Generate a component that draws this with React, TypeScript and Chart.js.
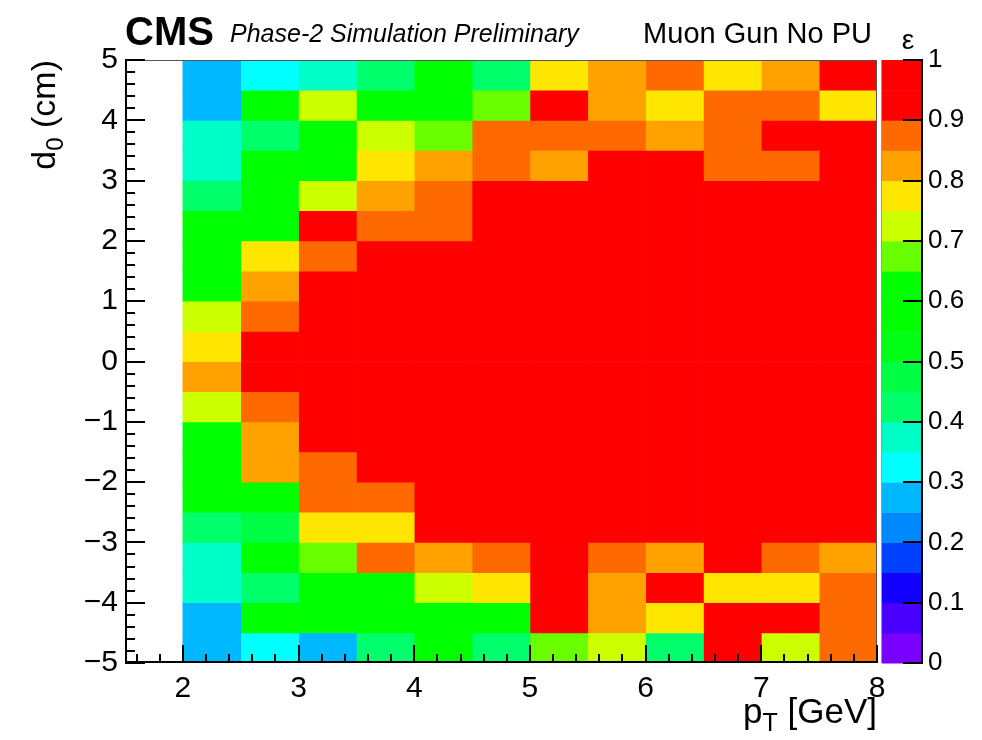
import React, { useEffect, useRef } from "react";
import { Chart, registerables } from "chart.js";

Chart.register(...registerables);

const FONT_FAMILY = '"Liberation Sans", Arial, Helvetica, sans-serif';

// Binning: pT in 0.5 GeV bins from 2 to 8, d0 in 0.5 cm bins from -5 to 5
const ptBinLow = [2.0, 2.5, 3.0, 3.5, 4.0, 4.5, 5.0, 5.5, 6.0, 6.5, 7.0, 7.5];
const d0BinLow = [
  -5.0, -4.5, -4.0, -3.5, -3.0, -2.5, -2.0, -1.5, -1.0, -0.5,
  0.0, 0.5, 1.0, 1.5, 2.0, 2.5, 3.0, 3.5, 4.0, 4.5,
];
const ptBinWidth = 0.5;
const d0BinWidth = 0.5;

// Efficiency in each pT bin, listed along d0 from -5 cm up to +5 cm
const effPt2p0 = [0.27, 0.28, 0.37, 0.38, 0.42, 0.57, 0.58, 0.56, 0.72, 0.83, 0.78, 0.73, 0.57, 0.58, 0.56, 0.43, 0.38, 0.37, 0.28, 0.27];
const effPt2p5 = [0.32, 0.57, 0.42, 0.58, 0.47, 0.56, 0.82, 0.83, 0.87, 0.96, 0.97, 0.88, 0.82, 0.78, 0.57, 0.58, 0.56, 0.43, 0.57, 0.33];
const effPt3p0 = [0.28, 0.57, 0.58, 0.67, 0.77, 0.87, 0.88, 0.96, 0.98, 0.99, 0.99, 0.98, 0.96, 0.87, 0.93, 0.72, 0.57, 0.58, 0.72, 0.37];
const effPt3p5 = [0.42, 0.57, 0.56, 0.87, 0.78, 0.88, 0.95, 0.97, 0.98, 0.99, 0.99, 0.98, 0.97, 0.96, 0.88, 0.82, 0.77, 0.72, 0.57, 0.43];
const effPt4p0 = [0.57, 0.58, 0.72, 0.82, 0.93, 0.95, 0.97, 0.98, 0.99, 0.99, 1.0, 0.99, 0.98, 0.96, 0.87, 0.88, 0.82, 0.67, 0.57, 0.58];
const effPt4p5 = [0.42, 0.57, 0.77, 0.87, 0.93, 0.96, 0.98, 0.98, 0.99, 1.0, 1.0, 0.99, 0.99, 0.98, 0.96, 0.94, 0.87, 0.88, 0.67, 0.42];
const effPt5p0 = [0.67, 0.95, 0.93, 0.94, 0.96, 0.97, 0.98, 0.99, 0.99, 1.0, 1.0, 0.99, 0.99, 0.98, 0.97, 0.95, 0.82, 0.87, 0.93, 0.77];
const effPt5p5 = [0.72, 0.82, 0.83, 0.87, 0.95, 0.97, 0.98, 0.99, 0.99, 1.0, 1.0, 0.99, 0.99, 0.98, 0.97, 0.96, 0.94, 0.87, 0.82, 0.83];
const effPt6p0 = [0.42, 0.77, 0.94, 0.82, 0.95, 0.97, 0.98, 0.99, 0.99, 1.0, 1.0, 0.99, 0.99, 0.98, 0.97, 0.96, 0.94, 0.82, 0.77, 0.87];
const effPt6p5 = [0.93, 0.95, 0.77, 0.92, 0.95, 0.97, 0.98, 0.99, 0.99, 1.0, 1.0, 0.99, 0.99, 0.98, 0.97, 0.95, 0.87, 0.87, 0.88, 0.77];
const effPt7p0 = [0.72, 0.94, 0.78, 0.87, 0.95, 0.97, 0.98, 0.99, 0.99, 1.0, 1.0, 0.99, 0.99, 0.98, 0.97, 0.96, 0.87, 0.93, 0.87, 0.82];
const effPt7p5 = [0.87, 0.88, 0.87, 0.82, 0.95, 0.97, 0.98, 0.99, 0.99, 1.0, 1.0, 0.99, 0.99, 0.98, 0.97, 0.96, 0.95, 0.93, 0.77, 0.94];

const efficiencyByPt = [
  effPt2p0, effPt2p5, effPt3p0, effPt3p5, effPt4p0, effPt4p5,
  effPt5p0, effPt5p5, effPt6p0, effPt6p5, effPt7p0, effPt7p5,
];

// Axis ranges and labelled ticks
const xRange = [1.5, 8];
const yRange = [-5, 5];
const zRange = [0, 1];
const xTickValues = [2, 3, 4, 5, 6, 7, 8];
const yTickValues = [-5, -4, -3, -2, -1, 0, 1, 2, 3, 4, 5];
const zTickValues = [0, 0.1, 0.2, 0.3, 0.4, 0.5, 0.6, 0.7, 0.8, 0.9, 1];

// Rainbow palette with 20 equal contours between zRange[0] and zRange[1]
const paletteColors = [
  "#7a00ff", "#4800ff", "#1400ff", "#0040ff", "#0088ff",
  "#00b8ff", "#00ffff", "#00ffc8", "#00ff6a", "#00ff44",
  "#00ff14", "#00ff00", "#00ff00", "#6aff00", "#ccff00",
  "#ffe600", "#ffa200", "#ff6a00", "#ff0000", "#ff0000",
];

function colorFor(v: number | undefined): string {
  if (v === undefined || v === null || Number.isNaN(v)) return "rgba(0,0,0,0)";
  const n = paletteColors.length;
  const f = (v - zRange[0]) / (zRange[1] - zRange[0]);
  const idx = Math.min(n - 1, Math.max(0, Math.floor(f * n + 1e-9)));
  return paletteColors[idx];
}

const unicodeMinus = (v: number) => (v < 0 ? "\u2212" + String(Math.abs(v)) : String(v));

function measureSubscripted(ctx: CanvasRenderingContext2D, base: string, sub: string, rest: string, size: number, subSize: number) {
  ctx.font = `${size}px ${FONT_FAMILY}`;
  const wb = ctx.measureText(base).width;
  const wr = ctx.measureText(rest).width;
  ctx.font = `${subSize}px ${FONT_FAMILY}`;
  const ws = ctx.measureText(sub).width;
  return { wb, ws, wr, total: wb + ws + wr };
}

// Draws base, a lowered subscript, then the rest, starting at (x, y) on the baseline
function drawSubscripted(ctx: CanvasRenderingContext2D, base: string, sub: string, rest: string, size: number, subSize: number, drop: number, x: number, y: number) {
  const m = measureSubscripted(ctx, base, sub, rest, size, subSize);
  ctx.textAlign = "left";
  ctx.textBaseline = "alphabetic";
  ctx.font = `${size}px ${FONT_FAMILY}`;
  ctx.fillText(base, x, y);
  ctx.font = `${subSize}px ${FONT_FAMILY}`;
  ctx.fillText(sub, x + m.wb, y + drop);
  ctx.font = `${size}px ${FONT_FAMILY}`;
  ctx.fillText(rest, x + m.wb + m.ws, y);
  return m.total;
}

const rootStylePlugin = {
  id: "rootStyle",
  beforeDraw(chart: any) {
    const { ctx, width, height } = chart;
    ctx.save();
    ctx.fillStyle = "#ffffff";
    ctx.fillRect(0, 0, width, height);
    ctx.restore();
  },
  afterDatasetsDraw(chart: any) {
    const { ctx, chartArea } = chart;
    const xs = chart.scales.x;
    const ys = chart.scales.y;
    const zs = chart.scales.z;
    const { left, right, top, bottom } = chartArea;

    ctx.save();
    ctx.lineCap = "butt";

    // frame: thin top/right, heavier axis lines
    ctx.strokeStyle = "#555";
    ctx.lineWidth = 1;
    ctx.beginPath();
    ctx.moveTo(left, top + 0.5);
    ctx.lineTo(right, top + 0.5);
    ctx.moveTo(right - 0.5, top);
    ctx.lineTo(right - 0.5, bottom);
    ctx.stroke();

    ctx.strokeStyle = "#000";
    ctx.lineWidth = 2;
    ctx.beginPath();
    ctx.moveTo(left, bottom - 1);
    ctx.lineTo(right, bottom - 1);
    ctx.moveTo(left + 1, top);
    ctx.lineTo(left + 1, bottom);
    ctx.stroke();

    // x ticks: major at integers, minor every 0.2
    ctx.beginPath();
    for (let k = Math.ceil(xRange[0] * 5); k <= Math.floor(xRange[1] * 5); k++) {
      const v = k / 5;
      if (v <= xRange[0]) continue;
      const px = Math.round(xs.getPixelForValue(v));
      const len = k % 5 === 0 ? 18 : 9;
      ctx.moveTo(px, bottom);
      ctx.lineTo(px, bottom - len);
    }
    // y ticks: major at integers, minor every 0.2
    for (let k = Math.ceil(yRange[0] * 5); k <= Math.floor(yRange[1] * 5); k++) {
      const v = k / 5;
      const py = Math.round(ys.getPixelForValue(v));
      const len = k % 5 === 0 ? 20 : 10;
      ctx.moveTo(left, py);
      ctx.lineTo(left + len, py);
    }
    ctx.stroke();

    // colour bar next to the frame, scaled by the z axis
    const cbLeft = right + 5;
    const cbRight = right + 46;
    const n = paletteColors.length;
    for (let i = 0; i < n; i++) {
      const lo = zRange[0] + ((zRange[1] - zRange[0]) * i) / n;
      const hi = zRange[0] + ((zRange[1] - zRange[0]) * (i + 1)) / n;
      const y0 = zs.getPixelForValue(lo);
      const y1 = zs.getPixelForValue(hi);
      ctx.fillStyle = paletteColors[i];
      ctx.fillRect(cbLeft, y1, cbRight - cbLeft, y0 - y1 + 0.5);
    }
    ctx.strokeStyle = "#999";
    ctx.lineWidth = 1;
    ctx.beginPath();
    ctx.moveTo(cbLeft - 0.5, zs.getPixelForValue(zRange[1]));
    ctx.lineTo(cbLeft - 0.5, zs.getPixelForValue(zRange[0]));
    ctx.stroke();

    ctx.strokeStyle = "#000";
    ctx.lineWidth = 2;
    ctx.beginPath();
    ctx.moveTo(cbRight - 1, zs.getPixelForValue(zRange[1]));
    ctx.lineTo(cbRight - 1, zs.getPixelForValue(zRange[0]));
    for (const v of zTickValues) {
      const py = Math.round(zs.getPixelForValue(v));
      ctx.moveTo(cbRight, py);
      ctx.lineTo(cbRight - 20, py);
    }
    ctx.stroke();

    // header texts
    ctx.fillStyle = "#000";
    ctx.textBaseline = "alphabetic";
    ctx.textAlign = "left";
    ctx.font = `bold 40px ${FONT_FAMILY}`;
    ctx.fillText("CMS", left, top - 15);
    ctx.font = `italic 25px ${FONT_FAMILY}`;
    ctx.fillText("Phase-2 Simulation Preliminary", left + 105, top - 18);
    ctx.textAlign = "right";
    ctx.font = `29px ${FONT_FAMILY}`;
    ctx.fillText("Muon Gun No PU", right - 5, top - 17);
    ctx.textAlign = "center";
    ctx.font = `28px ${FONT_FAMILY}`;
    ctx.fillText("\u03b5", cbLeft + 26, top - 11);

    // x axis title, right-aligned to the frame
    const xm = measureSubscripted(ctx, "p", "T", " [GeV]", 35, 25);
    drawSubscripted(ctx, "p", "T", " [GeV]", 35, 25, 8, right - xm.total, bottom + 60);

    // y axis title, rotated and ending at the top of the frame
    const ym = measureSubscripted(ctx, "d", "0", " (cm)", 34, 24);
    ctx.save();
    ctx.translate(left - 70, top);
    ctx.rotate(-Math.PI / 2);
    drawSubscripted(ctx, "d", "0", " (cm)", 34, 24, 8, -ym.total, 0);
    ctx.restore();

    ctx.restore();
  },
};

export default function App() {
  const canvasRef = useRef<HTMLCanvasElement | null>(null);

  useEffect(() => {
    const canvas = canvasRef.current;
    if (!canvas) return;

    const datasets = ptBinLow.map((pt, i) => ({
      label: `${pt}-${pt + ptBinWidth} GeV`,
      data: d0BinLow.map((d0, j) => ({
        x: pt + ptBinWidth / 2,
        y: [d0, d0 + d0BinWidth],
        v: efficiencyByPt[i][j],
      })),
      backgroundColor: (c: any) => colorFor(c.raw ? c.raw.v : undefined),
      borderWidth: 0,
      grouped: false,
      categoryPercentage: 1,
      barPercentage: 1,
    }));

    const tickFont = { family: FONT_FAMILY, size: 30 };

    const chart = new Chart(canvas, {
      type: "bar",
      data: { datasets } as any,
      options: {
        responsive: false,
        animation: false,
        devicePixelRatio: 1,
        events: [],
        layout: { padding: { top: 60, left: 0, right: 0, bottom: 0 } },
        plugins: {
          legend: { display: false },
          tooltip: { enabled: false },
          title: { display: false },
        },
        scales: {
          x: {
            type: "linear",
            min: xRange[0],
            max: xRange[1],
            offset: false,
            grid: { display: false, drawTicks: false, offset: false },
            border: { display: false },
            ticks: {
              font: tickFont,
              color: "#000",
              padding: 8,
              autoSkip: false,
              maxRotation: 0,
              callback: (v: any) => unicodeMinus(Number(v)),
            },
            afterBuildTicks: (s: any) => {
              s.ticks = xTickValues.map((value) => ({ value }));
            },
            afterFit: (s: any) => {
              s.height = 77;
            },
          },
          y: {
            type: "linear",
            min: yRange[0],
            max: yRange[1],
            grid: { display: false, drawTicks: false },
            border: { display: false },
            ticks: {
              font: tickFont,
              color: "#000",
              padding: 7,
              autoSkip: false,
              callback: (v: any) => unicodeMinus(Number(v)),
            },
            afterBuildTicks: (s: any) => {
              s.ticks = yTickValues.map((value) => ({ value }));
            },
            afterFit: (s: any) => {
              s.width = 125;
            },
          },
          z: {
            type: "linear",
            axis: "y",
            position: "right",
            min: zRange[0],
            max: zRange[1],
            // transparent tick marks reserve the room taken by the colour bar
            grid: {
              display: true,
              drawOnChartArea: false,
              drawTicks: true,
              tickLength: 46,
              tickColor: "rgba(0,0,0,0)",
              color: "rgba(0,0,0,0)",
            },
            border: { display: false },
            ticks: {
              font: { family: FONT_FAMILY, size: 26 },
              color: "#000",
              padding: 5,
              autoSkip: false,
              callback: (v: any) => String(Math.round(Number(v) * 10) / 10),
            },
            afterBuildTicks: (s: any) => {
              s.ticks = zTickValues.map((value) => ({ value }));
            },
            afterFit: (s: any) => {
              s.width = 105;
            },
          },
        },
      } as any,
      plugins: [rootStylePlugin],
    });

    return () => chart.destroy();
  }, []);

  return (
    <div style={{ position: "fixed", left: 0, top: 0, width: 982, height: 740, background: "#fff" }}>
      <canvas ref={canvasRef} width={982} height={740} style={{ display: "block", width: 982, height: 740 }} />
    </div>
  );
}
